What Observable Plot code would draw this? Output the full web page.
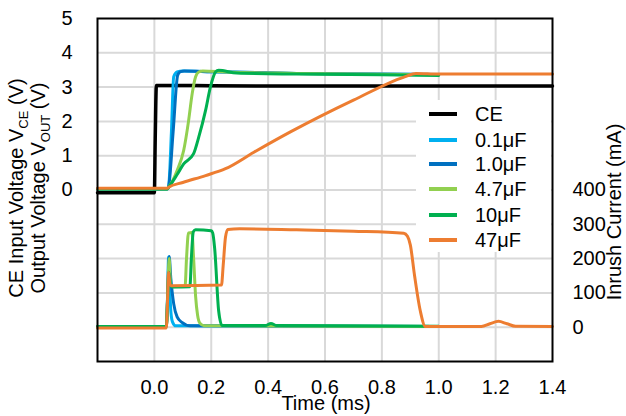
<!DOCTYPE html>
<html>
<head>
<meta charset="utf-8">
<script src="https://cdn.jsdelivr.net/npm/d3@7"></script>
<script src="https://cdn.jsdelivr.net/npm/@observablehq/plot@0.6"></script>
<style>
  html, body { margin: 0; padding: 0; background: white; }
  #wrap { position: relative; width: 626px; height: 416px; font-family: "Liberation Sans", Arial, sans-serif; }
  #legend { position: absolute; left: 416px; top: 100px; width: 135px; height: 152px; background: white; }
  .row { position: absolute; left: 0; height: 24px; font-size: 20px; line-height: 24px; color: black; }
  .row .sw { position: absolute; left: 13px; top: 10px; width: 28px; height: 4px; }
  .row .lb { position: absolute; left: 59px; top: 0; white-space: nowrap; }
</style>
</head>
<body>
<div id="wrap"></div>
<script>
// ---- Data (time in ms) ----
const seriesNames = ["CE", "0.1μF", "1.0μF", "4.7μF", "10μF", "47μF"];
const seriesColors = ["#000000", "#00b0f0", "#0070c0", "#92d050", "#00b050", "#ed7d31"];

// Voltages (V): [time ms, volts]
const vCE = [[-0.2,-0.08],[0.0,-0.08],[0.003,1.5],[0.007,3.05],[0.2,3.04],[0.6,3.03],[1.0,3.03],[1.4,3.03]];
const v01 = [[-0.2,0.03],[0.045,0.03],[0.05,0.1],[0.06,1.7],[0.068,3.3],[0.08,3.44],[0.1,3.47],[0.2,3.45],[0.5,3.4],[1.0,3.37]];
const v10 = [[-0.2,0.03],[0.045,0.03],[0.05,0.1],[0.066,1.7],[0.082,3.35],[0.092,3.45],[0.105,3.47],[0.2,3.45],[0.5,3.4],[1.0,3.37]];
const v47 = [[-0.2,0.03],[0.045,0.03],[0.05,0.08],[0.08,0.57],[0.103,1.15],[0.12,2.0],[0.133,2.81],[0.145,3.3],[0.156,3.44],[0.17,3.47],[0.25,3.44],[0.5,3.4],[1.0,3.36]];
const v100 = [[-0.2,0.03],[0.045,0.03],[0.05,0.08],[0.08,0.45],[0.103,0.76],[0.138,1.06],[0.156,1.54],[0.18,2.32],[0.197,3.0],[0.215,3.44],[0.226,3.49],[0.29,3.41],[0.5,3.38],[0.8,3.36],[1.0,3.34]];
const v470 = [[-0.2,0.05],[0.045,0.05],[0.05,0.08],[0.1,0.22],[0.18,0.42],[0.25,0.62],[0.35,1.1],[0.48,1.7],[0.7,2.62],[0.88,3.3],[0.92,3.4],[1.0,3.38],[1.2,3.38],[1.4,3.38]];

// Inrush currents (mA): [time ms, mA]
const i01 = [[-0.2,2],[0.042,2],[0.046,80],[0.05,205],[0.054,120],[0.058,45],[0.064,15],[0.075,4],[1.0,2]];
const i10 = [[-0.2,2],[0.042,2],[0.047,100],[0.052,206],[0.058,140],[0.068,68],[0.08,30],[0.097,14],[0.126,4],[1.0,2]];
const i47 = [[-0.2,2],[0.042,2],[0.047,100],[0.052,200],[0.057,125],[0.064,118],[0.108,120],[0.113,200],[0.12,275],[0.132,276],[0.138,200],[0.145,90],[0.152,35],[0.16,12],[0.175,4],[1.0,2]];
const i100 = [[-0.2,2],[0.042,2],[0.047,90],[0.051,160],[0.057,122],[0.064,117],[0.125,118],[0.13,200],[0.137,278],[0.145,284],[0.2,281],[0.205,275],[0.212,230],[0.226,48],[0.238,5],[0.39,5],[0.41,11],[0.43,5],[1.0,3]];
const i470 = [[-0.2,-2],[0.042,-2],[0.046,70],[0.05,160],[0.055,125],[0.06,121],[0.236,123],[0.242,180],[0.25,262],[0.258,285],[0.3,287],[0.5,284],[0.7,280],[0.877,274],[0.89,265],[0.9,240],[0.915,150],[0.935,48],[0.953,2],[1.15,2],[1.18,10],[1.21,17],[1.24,10],[1.27,3],[1.4,2]];

// Axis ticks
const xTicks = [0, 0.2, 0.4, 0.6, 0.8, 1.0, 1.2, 1.4];
const leftTicks = [0, 1, 2, 3, 4, 5];
const rightTicks = [0, 100, 200, 300, 400];

// ---- Build tables ----
const voltSets = [vCE, v01, v10, v47, v100, v470];
const currSets = [null, i01, i10, i47, i100, i470];
const curToY = (mA) => mA / 100 - 4; // current axis shares the plot: 0 mA at -4 on the voltage scale
const widths = [3.5, 3, 3, 3, 3, 3];

const lineMarks = [];
seriesNames.forEach((name, k) => {
  const vs = voltSets[k].map(([t, v]) => ({t, y: v, s: name}));
  lineMarks.push(Plot.line(vs, {x: "t", y: "y", stroke: seriesColors[k], strokeWidth: widths[k], curve: "monotone-x"}));
});
seriesNames.forEach((name, k) => {
  if (!currSets[k]) return;
  const cs = currSets[k].map(([t, mA]) => ({t, y: curToY(mA), s: name}));
  lineMarks.push(Plot.line(cs, {x: "t", y: "y", stroke: seriesColors[k], strokeWidth: widths[k], curve: "monotone-x"}));
});

const gridY = d3.range(-4, 5, 1);
const gridX = xTicks.slice(0, -1);

const chart = Plot.plot({
  width: 626,
  height: 416,
  marginLeft: 97,
  marginRight: 74,
  marginTop: 18,
  marginBottom: 55,
  style: {fontSize: "20px", fontFamily: "'Liberation Sans', Arial, sans-serif", background: "white", color: "black"},
  x: {domain: [-0.2, 1.4]},
  y: {domain: [-5, 5]},
  marks: [
    Plot.ruleX(gridX, {stroke: "#d9d9d9", strokeWidth: 2}),
    Plot.ruleY(gridY, {stroke: "#d9d9d9", strokeWidth: 2}),
    Plot.axisY({anchor: "left", ticks: leftTicks, tickSize: 0, tickPadding: 25, label: null, fill: "black"}),
    Plot.axisY({anchor: "right", ticks: rightTicks.map(curToY), tickSize: 0, tickPadding: 20, label: null,
      tickFormat: (d) => String(Math.round((d + 4) * 100)), fill: "black"}),
    Plot.axisX({anchor: "bottom", ticks: xTicks, tickSize: 0, tickPadding: 18, label: null,
      tickFormat: (d) => d.toFixed(1), fill: "black"}),
    ...lineMarks,
    Plot.frame({stroke: "black", strokeWidth: 2})
  ]
});

const wrap = document.getElementById("wrap");
wrap.appendChild(chart);

// ---- Axis titles ----
const svg = d3.select(chart);
const ff = "'Liberation Sans', Arial, sans-serif";
function rotTitle(x, y, parts) {
  const t = svg.append("text")
    .attr("transform", `translate(${x},${y}) rotate(-90)`)
    .attr("text-anchor", "middle")
    .attr("font-size", 20)
    .attr("font-family", ff)
    .attr("fill", "black")
    .attr("dy", "0.35em");
  parts.forEach(([txt, sub]) => {
    const s = t.append("tspan").text(txt);
    if (sub === 1) s.attr("font-size", 13).attr("dy", 5);
    if (sub === -1) s.attr("dy", -5);
  });
}
rotTitle(16, 188, [["CE Input Voltage V", 0], ["CE", 1], [" (V)", -1]]);
rotTitle(38, 188, [["Output Voltage V", 0], ["OUT", 1], [" (V)", -1]]);
rotTitle(614, 212, [["Inrush Current (mA)", 0]]);
svg.append("text")
  .attr("x", 326).attr("y", 403).attr("dy", "0.35em")
  .attr("text-anchor", "middle").attr("font-size", 20)
  .attr("font-family", ff).attr("fill", "black")
  .text("Time (ms)");

// ---- Legend (inside plot, white box) ----
const legend = document.createElement("div");
legend.id = "legend";
const rowCenters = [14, 40, 64, 89, 115, 140];
seriesNames.forEach((name, k) => {
  const row = document.createElement("div");
  row.className = "row";
  row.style.top = (rowCenters[k] - 12) + "px";
  row.style.width = "135px";
  const sw = document.createElement("div");
  sw.className = "sw";
  sw.style.background = seriesColors[k];
  const lb = document.createElement("div");
  lb.className = "lb";
  lb.textContent = name;
  row.appendChild(sw);
  row.appendChild(lb);
  legend.appendChild(row);
});
wrap.appendChild(legend);
</script>
</body>
</html>
